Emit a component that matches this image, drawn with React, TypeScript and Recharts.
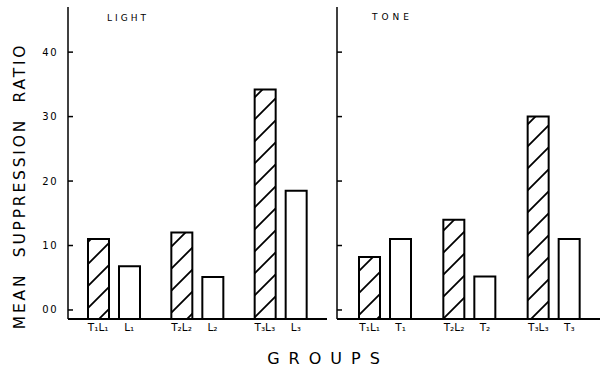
import React from 'react';
import { BarChart, Bar, XAxis, YAxis } from 'recharts';

// three groups per panel: paired (T+L) bar and single-stimulus bar
const groups = ['1', '2', '3'];

const lightPaired = [0.11, 0.12, 0.342];
const lightSingle = [0.068, 0.051, 0.185];
const tonePaired = [0.082, 0.14, 0.3];
const toneSingle = [0.11, 0.052, 0.11];

const pairedLabels = ['T₁L₁', 'T₂L₂', 'T₃L₃'];
const lightLabels = ['L₁', 'L₂', 'L₃'];
const toneLabels = ['T₁', 'T₂', 'T₃'];

const yTicks = [0, 0.1, 0.2, 0.3, 0.4];
const yMin = -0.014;
const yMax = 0.47;

const font = '"DejaVu Sans", sans-serif';
const barSize = 21;
const barGap = 10;

const lightData = groups.map((g, i) => ({ group: g, paired: lightPaired[i], single: lightSingle[i] }));
const toneData = groups.map((g, i) => ({ group: g, paired: tonePaired[i], single: toneSingle[i] }));

function YTick(props: any) {
  const { x, y, payload, showLabel } = props;
  const label = String(Math.round(payload.value * 100)).padStart(2, '0');
  return (
    <g>
      <line x1={x} x2={x + 5} y1={y} y2={y} stroke="#000" strokeWidth={1.5} />
      {showLabel && (
        <text x={x - 10} y={y} dy={3.5} textAnchor="end" fontSize={10} letterSpacing={1.5} fill="#000" fontFamily={font}>
          {label}
        </text>
      )}
    </g>
  );
}

function XTick(props: any) {
  const { x, y, index, singleLabels } = props;
  const half = (barSize + barGap) / 2;
  return (
    <g fontFamily={font} fontSize={10.5}>
      <text x={x - half} y={y} dy={12} textAnchor="middle" fill="#000">
        {pairedLabels[index]}
      </text>
      <text x={x + half} y={y} dy={12} textAnchor="middle" fill="#000">
        {singleLabels[index]}
      </text>
    </g>
  );
}

function Panel({ data, singleLabels, width, yWidth, marginRight, padding, showLabels }: any) {
  return (
    <BarChart
      width={width}
      height={369}
      data={data}
      margin={{ top: 7, right: marginRight, left: 0, bottom: 30 }}
      barSize={barSize}
      barGap={barGap}
    >
      <XAxis
        dataKey="group"
        height={20}
        padding={padding}
        axisLine={{ stroke: '#000', strokeWidth: 2 }}
        tickLine={false}
        tickSize={0}
        tickMargin={0}
        interval={0}
        tick={<XTick singleLabels={singleLabels} />}
      />
      <YAxis
        type="number"
        width={yWidth}
        domain={[yMin, yMax]}
        ticks={yTicks}
        allowDataOverflow
        axisLine={{ stroke: '#000', strokeWidth: 1.5 }}
        tickLine={false}
        tickSize={0}
        tickMargin={0}
        interval={0}
        tick={<YTick showLabel={showLabels} />}
      />
      <Bar
        dataKey={(d: any) => [yMin, d.paired]}
        fill="url(#hatch)"
        stroke="#000"
        strokeWidth={2}
        isAnimationActive={false}
      />
      <Bar
        dataKey={(d: any) => [yMin, d.single]}
        fill="#fff"
        stroke="#000"
        strokeWidth={2}
        isAnimationActive={false}
      />
    </BarChart>
  );
}

export default function App() {
  return (
    <div style={{ position: 'absolute', left: 0, top: 0, width: 600, height: 369, background: '#fff', overflow: 'hidden' }}>
      <svg width={0} height={0} style={{ position: 'absolute' }}>
        <defs>
          <pattern id="hatch" patternUnits="userSpaceOnUse" width={22} height={22}>
            <rect width={22} height={22} fill="#fff" />
            <path d="M0,22 L22,0 M-3,3 L3,-3 M19,25 L25,19" stroke="#000" strokeWidth={1.8} />
          </pattern>
        </defs>
      </svg>
      <div style={{ position: 'absolute', left: 0, top: 0 }}>
        <Panel
          data={lightData}
          singleLabels={lightLabels}
          width={330}
          yWidth={68}
          marginRight={3}
          padding={{ left: 4, right: 5 }}
          showLabels
        />
      </div>
      <div style={{ position: 'absolute', left: 300, top: 0 }}>
        <Panel
          data={toneData}
          singleLabels={toneLabels}
          width={300}
          yWidth={37}
          marginRight={0}
          padding={{ left: 6, right: 4 }}
          showLabels={false}
        />
      </div>
      <svg width={600} height={369} style={{ position: 'absolute', left: 0, top: 0, pointerEvents: 'none' }} fontFamily={font}>
        <text
          x={20}
          y={186}
          transform="rotate(-90 20 186)"
          textAnchor="middle"
          dominantBaseline="central"
          fontSize={15.5}
          letterSpacing={2.8}
          fill="#000"
          style={{ whiteSpace: 'pre' }}
        >
          {'MEAN  SUPPRESSION  RATIO'}
        </text>
        <text x={328} y={364} textAnchor="middle" fontSize={16} letterSpacing={9} fill="#000">
          GROUPS
        </text>
        <text x={107} y={21} fontSize={9} letterSpacing={3} fill="#000">
          LIGHT
        </text>
        <text x={372} y={20} fontSize={9} letterSpacing={4} fill="#000">
          TONE
        </text>
      </svg>
    </div>
  );
}
